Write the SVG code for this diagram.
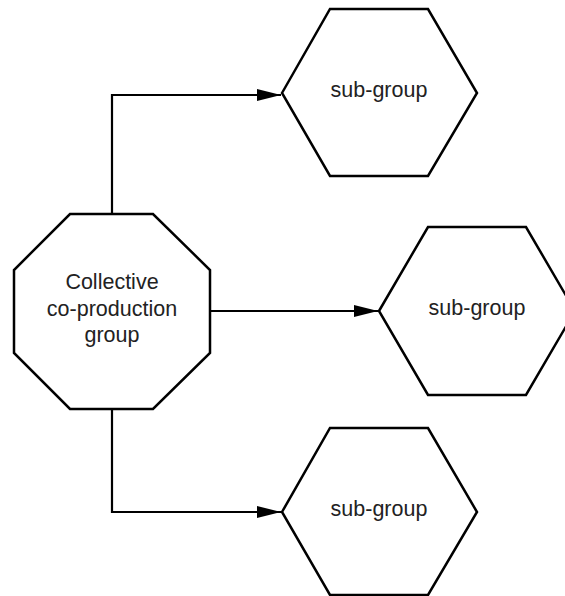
<svg xmlns="http://www.w3.org/2000/svg" width="565" height="596" viewBox="0 0 565 596">
  <style>
    .shape { fill: #ffffff; stroke: #000000; stroke-width: 2.5; stroke-linejoin: miter; }
    .edge { fill: none; stroke: #000000; stroke-width: 2.2; }
    .label { font-family: "Liberation Sans", Arial, sans-serif; font-size: 21.5px; fill: #222222; text-anchor: middle; }
  </style>
  <defs>
    <marker id="arrow" viewBox="0 0 24 12" refX="24" refY="6" markerWidth="24" markerHeight="12" markerUnits="userSpaceOnUse" orient="auto">
      <path d="M0,0 L24,6 L0,12 Z" fill="#000000"/>
    </marker>
  </defs>
  <rect width="565" height="596" fill="#ffffff"/>

  <g id="connectors">
    <path class="edge" d="M112,214 L112,95 L281,95" marker-end="url(#arrow)"/>
    <path class="edge" d="M210,311 L378,311" marker-end="url(#arrow)"/>
    <path class="edge" d="M112,409 L112,512 L281,512" marker-end="url(#arrow)"/>
  </g>

  <g id="collective">
    <polygon class="shape" points="70,214 153,214 210,270 210,353 153,409 70,409 14,353 14,270"/>
    <text class="label" x="112" y="289">Collective</text>
    <text class="label" x="112" y="316">co-production</text>
    <text class="label" x="112" y="342">group</text>
  </g>

  <g id="subgroup-top">
    <polygon class="shape" points="282,93 330,9 428,9 477,93 428,176 330,176"/>
    <text class="label" x="379" y="97">sub-group</text>
  </g>

  <g id="subgroup-middle">
    <polygon class="shape" points="379,311 428,227 526,227 575,311 526,395 428,395"/>
    <text class="label" x="477" y="315">sub-group</text>
  </g>

  <g id="subgroup-bottom">
    <polygon class="shape" points="282,512 330,428 428,428 477,512 428,595 330,595"/>
    <text class="label" x="379" y="516">sub-group</text>
  </g>
</svg>
